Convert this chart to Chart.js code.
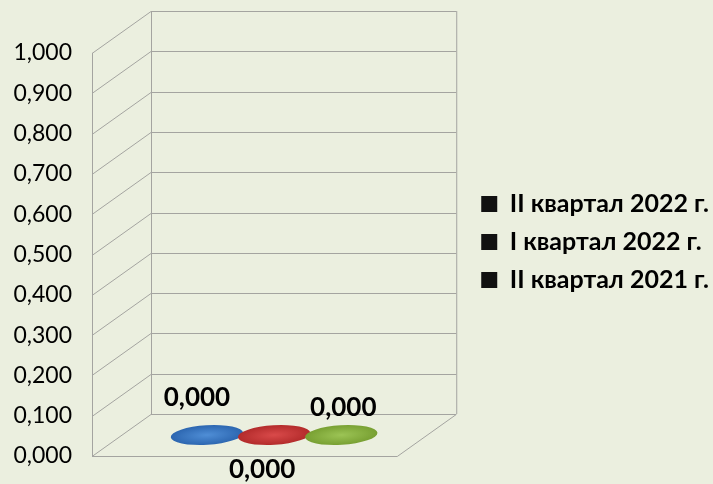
<!DOCTYPE html>
<html>
<head>
<meta charset="utf-8">
<script src="https://cdn.jsdelivr.net/npm/chart.js@4.4.0/dist/chart.umd.min.js"></script>
<style>
  html, body { margin: 0; padding: 0; background: #ebefdf; }
  canvas { display: block; }
</style>
</head>
<body>
<canvas id="chart" width="713" height="484"></canvas>
<script>
// данные
const categories = [''];
const seriesNames = ['II квартал 2022 г.', 'I квартал 2022 г.', 'II квартал 2021 г.'];
const seriesValues = [[0], [0], [0]];
const yTickValues = [0, 0.1, 0.2, 0.3, 0.4, 0.5, 0.6, 0.7, 0.8, 0.9, 1.0];

// стиль
const seriesColors = ['#2c66b0', '#b32b2b', '#78a032'];
const seriesLight = ['#4f8ed6', '#d94a4a', '#9cc455'];
const labelOffsets = [[-10, -37], [-12, 35], [2, -27]];
const depth = { dx: 59, dy: -42 };
const FONT = 'Lato, "Noto Sans", sans-serif';

const fmt = v => v.toFixed(3).replace('.', ',');

// стенки 3D-коробки
const box3d = {
  id: 'box3d',
  beforeDatasetsDraw(chart) {
    const { ctx, chartArea: a, scales: { y } } = chart;
    const { dx, dy } = depth;
    const top = y.getPixelForValue(y.max);
    const bot = y.getPixelForValue(y.min);
    ctx.save();
    ctx.strokeStyle = '#a4a4a0';
    ctx.lineWidth = 1;
    ctx.beginPath();
    y.ticks.forEach(t => {
      const py = Math.round(y.getPixelForValue(t.value)) + 0.5;
      ctx.moveTo(a.left, py);
      ctx.lineTo(a.left + dx, py + dy);
      ctx.lineTo(a.right + dx, py + dy);
    });
    ctx.moveTo(a.left + 0.5, top);
    ctx.lineTo(a.left + 0.5, bot);
    ctx.moveTo(a.left + dx + 0.5, top + dy);
    ctx.lineTo(a.left + dx + 0.5, bot + dy);
    ctx.moveTo(a.right + dx + 0.5, top + dy);
    ctx.lineTo(a.right + dx + 0.5, bot + dy);
    ctx.moveTo(a.left, Math.round(bot) + 0.5);
    ctx.lineTo(a.right, Math.round(bot) + 0.5);
    ctx.lineTo(a.right + dx, Math.round(bot) + 0.5 + dy);
    ctx.stroke();
    ctx.restore();
  }
};

function ellipse(ctx, cx, cy, rx, ry, tilt, c0, c1) {
  ctx.save();
  ctx.translate(cx, cy);
  ctx.rotate(tilt);
  ctx.scale(1, ry / rx);
  const g = ctx.createRadialGradient(0, 0, 0, 0, 0, rx);
  g.addColorStop(0, c0);
  g.addColorStop(1, c1);
  ctx.fillStyle = g;
  ctx.beginPath();
  ctx.arc(0, 0, rx, 0, Math.PI * 2);
  ctx.fill();
  ctx.restore();
}

// цилиндры и подписи
const cylinders = {
  id: 'cylinders',
  afterDatasetsDraw(chart) {
    const { ctx } = chart;
    const { dx, dy } = depth;
    const tilt = -0.06;
    chart.data.datasets.forEach((ds, i) => {
      const meta = chart.getDatasetMeta(i);
      meta.data.forEach((bar, j) => {
        const cx = bar.x + dx / 2;
        const rx = bar.width / 2 * 1.08;
        const ry = rx * 0.27;
        const yTop = bar.y + dy / 2;
        const yBase = bar.base + dy / 2;
        if (yBase - yTop > 1) {
          const g = ctx.createLinearGradient(cx - rx, 0, cx + rx, 0);
          g.addColorStop(0, seriesColors[i]);
          g.addColorStop(0.45, seriesLight[i]);
          g.addColorStop(1, seriesColors[i]);
          ctx.fillStyle = g;
          ctx.beginPath();
          ctx.ellipse(cx, yBase, rx, ry, tilt, 0, Math.PI);
          ctx.lineTo(cx - rx, yTop);
          ctx.lineTo(cx + rx, yTop);
          ctx.closePath();
          ctx.fill();
        }
        ellipse(ctx, cx, yTop, rx, ry, tilt, seriesLight[i], seriesColors[i]);

        ctx.save();
        ctx.font = 'bold 26px ' + FONT;
        ctx.fillStyle = '#000';
        ctx.textAlign = 'center';
        ctx.textBaseline = 'middle';
        ctx.fillText(fmt(ds.data[j]), cx + labelOffsets[i][0], yTop + labelOffsets[i][1]);
        ctx.restore();
      });
    });
  }
};

new Chart(document.getElementById('chart'), {
  type: 'bar',
  data: {
    labels: categories,
    datasets: seriesNames.map((name, i) => ({
      label: name,
      data: seriesValues[i],
      backgroundColor: seriesColors[i],
      borderWidth: 0,
      categoryPercentage: 0.66,
      barPercentage: 1
    }))
  },
  options: {
    responsive: false,
    animation: false,
    layout: { padding: { top: 28, bottom: 28, left: 12, right: -6 } },
    scales: {
      x: {
        position: 'top',
        grid: { display: false },
        border: { display: false },
        ticks: { display: false },
        afterFit: s => { s.height = 25; }
      },
      y: {
        min: 0,
        max: 1,
        afterBuildTicks: s => { s.ticks = yTickValues.map(v => ({ value: v })); },
        grid: { display: false, drawTicks: false },
        border: { display: false },
        ticks: {
          color: '#000',
          font: { family: FONT, size: 23 },
          padding: 20,
          callback: v => fmt(v)
        },
        afterFit: s => { s.width = 80; s.paddingTop = 0; s.paddingBottom = 0; }
      },
      y2: {
        position: 'right',
        grid: { display: false },
        border: { display: false },
        ticks: { display: false },
        afterFit: s => { s.width = 71; }
      }
    },
    plugins: {
      tooltip: { enabled: false },
      legend: {
        position: 'right',
        align: 'center',
        maxWidth: 320,
        onClick: null,
        labels: {
          color: '#000',
          font: { family: FONT, size: 25, weight: 'bold' },
          boxWidth: 16,
          boxHeight: 16,
          padding: 13,
          generateLabels: chart =>
            Chart.defaults.plugins.legend.labels.generateLabels(chart).map(l => ({
              ...l, fillStyle: '#111', strokeStyle: '#111', lineWidth: 0
            }))
        }
      }
    }
  },
  plugins: [box3d, cylinders]
});
</script>
</body>
</html>
